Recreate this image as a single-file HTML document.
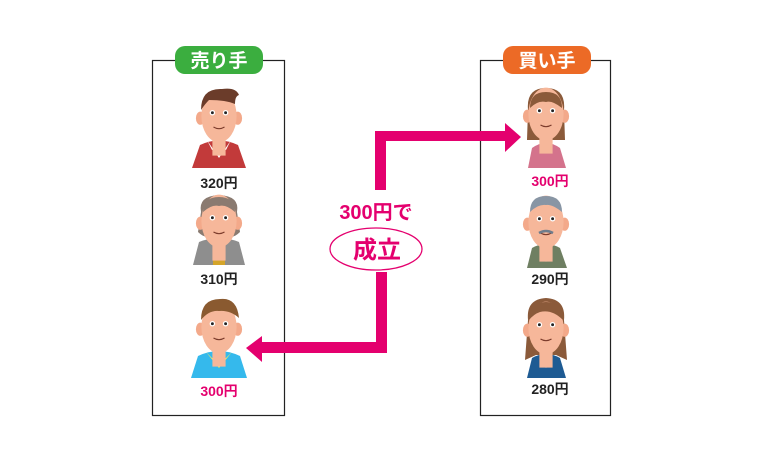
<!DOCTYPE html>
<html><head><meta charset="utf-8"><style>
body{margin:0;background:#fff;width:764px;height:460px;overflow:hidden}
svg{display:block}
text{font-family:"Liberation Sans","Noto Sans CJK JP",sans-serif;font-weight:bold}
</style></head><body>
<svg width="764" height="460" viewBox="0 0 764 460">
<defs>
<g id="head">
 <ellipse cx="-17" cy="2" rx="4" ry="6" fill="#f3a98a"/>
 <ellipse cx="17" cy="2" rx="4" ry="6" fill="#f3a98a"/>
 <rect x="-6" y="18" width="12" height="18" fill="#f6b79a"/>
 <ellipse cx="0" cy="0" rx="16" ry="24" fill="#f6b79a"/>
 <circle cx="-6" cy="-3" r="2.5" fill="#fff"/><circle cx="6" cy="-3" r="2.5" fill="#fff"/>
 <circle cx="-6" cy="-3" r="1.3" fill="#222"/><circle cx="6" cy="-3" r="1.3" fill="#222"/>
 <path d="M-5 10 Q0 13 5 10" stroke="#7a3a2a" stroke-width="1" fill="none"/>
</g>
</defs>
<rect x="152.5" y="60.5" width="132" height="355" fill="none" stroke="#222" stroke-width="1.2"/>
<rect x="480.5" y="60.5" width="130" height="355" fill="none" stroke="#222" stroke-width="1.2"/>
<rect x="175" y="46" width="88" height="28" rx="10" fill="#3bae3f"/>
<text x="219" y="67" font-size="19" fill="#fff" text-anchor="middle">売り手</text>
<rect x="503" y="46" width="88" height="28" rx="10" fill="#ec6a26"/>
<text x="547" y="67" font-size="19" fill="#fff" text-anchor="middle">買い手</text>

<!-- seller 1 -->
<path d="M192 168 L200 145 Q219 136 238 145 L246 168Z" fill="#c23a3a"/>
<path d="M207 140 L219 158 L231 140 L226 150 L212 150Z" fill="#fff"/>
<use href="#head" transform="translate(219 116) scale(1.1)"/>
<path d="M201 110 Q201 88 222 89 Q236 87 239 95 Q235 96 235 104 Q226 100 209 100 Q205 104 201 110Z" fill="#6b3c2a"/>
<text x="219" y="188" font-size="14" fill="#222" text-anchor="middle">320円</text>

<!-- seller 2 -->
<path d="M193 265 L199 242 Q219 234 239 242 L245 265Z" fill="#8e8e8e"/>
<rect x="213" y="242" width="12" height="23" fill="#d4a52a"/>
<path d="M201 212 Q198 196 219 195 Q240 196 237 212 L240 232 Q232 240 226 235 L213 235 Q206 240 198 232Z" fill="#8a7a70"/>
<use href="#head" transform="translate(219 221) scale(1.1)"/>
<path d="M203 212 Q203 197 219 197 Q235 197 235 212 Q226 204 219 206 Q212 204 203 212Z" fill="#8a7a70"/>
<text x="219" y="284" font-size="14" fill="#222" text-anchor="middle">310円</text>

<!-- seller 3 -->
<path d="M191 378 L198 356 Q219 346 240 356 L247 378Z" fill="#35b9ec"/>
<path d="M206 352 L219 368 L232 352 L226 358 L212 358Z" fill="#f5e85c"/>
<use href="#head" transform="translate(219 327) scale(1.1)"/>
<path d="M201 320 Q201 299 220 299 Q237 297 239 318 Q230 310 219 311 Q209 310 201 320Z" fill="#8a5a30"/>
<text x="219" y="396" font-size="14" fill="#e4006e" text-anchor="middle">300円</text>

<!-- buyer 1 -->
<path d="M528 168 L532 148 Q546 138 560 148 L566 168Z" fill="#d4738c"/>
<path d="M528 110 Q526 88 546 88 Q566 88 564 110 L565 140 L554 140 L538 140 L527 140Z" fill="#8b5a3a"/>
<use href="#head" transform="translate(546 114) scale(1.1)"/>
<path d="M530 108 Q530 92 546 92 Q562 92 562 108 Q552 100 546 102 Q538 100 530 108Z" fill="#8b5a3a"/>
<text x="550" y="186" font-size="14" fill="#e4006e" text-anchor="middle">300円</text>

<!-- buyer 2 -->
<path d="M527 268 L532 248 Q546 240 560 248 L567 268Z" fill="#6f7f62"/>
<path d="M540 244 L546 262 L552 244Z" fill="#cfe6f5"/>
<use href="#head" transform="translate(546 222) scale(1.1)"/>
<path d="M530 212 Q530 196 546 196 Q562 196 562 212 Q552 204 546 205 Q538 204 530 212Z" fill="#8895a4"/>
<path d="M539 233 Q546 229 553 233" stroke="#6e7c8c" stroke-width="2.5" fill="none"/>
<text x="550" y="284" font-size="14" fill="#222" text-anchor="middle">290円</text>

<!-- buyer 3 -->
<path d="M527 378 L532 358 Q546 350 560 358 L566 378Z" fill="#1e5b93"/>
<path d="M539 354 L546 368 L553 354Z" fill="#fff"/>
<path d="M528 320 Q526 299 546 298 Q566 299 564 320 L567 360 L556 355 L536 355 L525 360Z" fill="#8b5a3a"/>
<use href="#head" transform="translate(546 328) scale(1.1)"/>
<path d="M529 320 Q530 302 546 302 Q562 302 563 320 Q552 309 540 312 Q534 314 529 320Z" fill="#8b5a3a"/>
<text x="550" y="394" font-size="14" fill="#222" text-anchor="middle">280円</text>

<!-- arrows -->
<path d="M375 190 L375 131 L506 131 L506 141 L386 141 L386 190Z" fill="#e4006e"/>
<path d="M505 123 L521 137 L505 152Z" fill="#e4006e"/>
<path d="M376 272 L387 272 L387 353 L262 353 L262 342 L376 342Z" fill="#e4006e"/>
<path d="M262 336 L246 348 L262 362Z" fill="#e4006e"/>

<text x="376" y="219" font-size="20" fill="#e4006e" text-anchor="middle">300円で</text>
<ellipse cx="376" cy="249" rx="46" ry="21" fill="#fff" stroke="#e4006e" stroke-width="1.3"/>
<text x="377" y="258" font-size="24" fill="#e4006e" text-anchor="middle">成立</text>
</svg>
</body></html>
